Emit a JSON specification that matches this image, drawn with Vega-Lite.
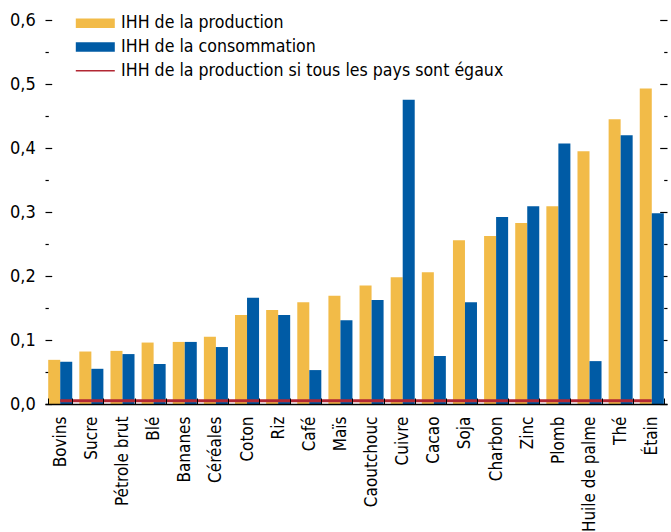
{
  "$schema": "https://vega.github.io/schema/vega-lite/v6.json",
  "width": 622,
  "height": 384,
  "autosize": {"type": "none"},
  "padding": {"left": 45, "top": 20, "right": 4, "bottom": 128},
  "config": {"view": {"stroke": null}, "font": "DejaVu Sans Condensed", "background": "white"},
  "datasets": {
    "bars": [
      {"produit": "Bovins", "serie": "IHH de la production", "valeur": 0.069},
      {"produit": "Bovins", "serie": "IHH de la consommation", "valeur": 0.066},
      {"produit": "Sucre", "serie": "IHH de la production", "valeur": 0.082},
      {"produit": "Sucre", "serie": "IHH de la consommation", "valeur": 0.055},
      {"produit": "Pétrole brut", "serie": "IHH de la production", "valeur": 0.083},
      {"produit": "Pétrole brut", "serie": "IHH de la consommation", "valeur": 0.078},
      {"produit": "Blé", "serie": "IHH de la production", "valeur": 0.096},
      {"produit": "Blé", "serie": "IHH de la consommation", "valeur": 0.0625},
      {"produit": "Bananes", "serie": "IHH de la production", "valeur": 0.097},
      {"produit": "Bananes", "serie": "IHH de la consommation", "valeur": 0.097},
      {"produit": "Céréales", "serie": "IHH de la production", "valeur": 0.105},
      {"produit": "Céréales", "serie": "IHH de la consommation", "valeur": 0.089},
      {"produit": "Coton", "serie": "IHH de la production", "valeur": 0.139},
      {"produit": "Coton", "serie": "IHH de la consommation", "valeur": 0.166},
      {"produit": "Riz", "serie": "IHH de la production", "valeur": 0.147},
      {"produit": "Riz", "serie": "IHH de la consommation", "valeur": 0.139},
      {"produit": "Café", "serie": "IHH de la production", "valeur": 0.159},
      {"produit": "Café", "serie": "IHH de la consommation", "valeur": 0.053},
      {"produit": "Maïs", "serie": "IHH de la production", "valeur": 0.169},
      {"produit": "Maïs", "serie": "IHH de la consommation", "valeur": 0.131},
      {"produit": "Caoutchouc", "serie": "IHH de la production", "valeur": 0.185},
      {"produit": "Caoutchouc", "serie": "IHH de la consommation", "valeur": 0.1625},
      {"produit": "Cuivre", "serie": "IHH de la production", "valeur": 0.198},
      {"produit": "Cuivre", "serie": "IHH de la consommation", "valeur": 0.4755},
      {"produit": "Cacao", "serie": "IHH de la production", "valeur": 0.206},
      {"produit": "Cacao", "serie": "IHH de la consommation", "valeur": 0.075},
      {"produit": "Soja", "serie": "IHH de la production", "valeur": 0.256},
      {"produit": "Soja", "serie": "IHH de la consommation", "valeur": 0.159},
      {"produit": "Charbon", "serie": "IHH de la production", "valeur": 0.2625},
      {"produit": "Charbon", "serie": "IHH de la consommation", "valeur": 0.292},
      {"produit": "Zinc", "serie": "IHH de la production", "valeur": 0.283},
      {"produit": "Zinc", "serie": "IHH de la consommation", "valeur": 0.309},
      {"produit": "Plomb", "serie": "IHH de la production", "valeur": 0.309},
      {"produit": "Plomb", "serie": "IHH de la consommation", "valeur": 0.407},
      {"produit": "Huile de palme", "serie": "IHH de la production", "valeur": 0.395},
      {"produit": "Huile de palme", "serie": "IHH de la consommation", "valeur": 0.067},
      {"produit": "Thé", "serie": "IHH de la production", "valeur": 0.445},
      {"produit": "Thé", "serie": "IHH de la consommation", "valeur": 0.42},
      {"produit": "Étain", "serie": "IHH de la production", "valeur": 0.493},
      {"produit": "Étain", "serie": "IHH de la consommation", "valeur": 0.298}
    ],
    "egaux": [
      {"produit": "Bovins", "serie": "IHH de la production si tous les pays sont égaux", "valeur": 0.005},
      {"produit": "Sucre", "serie": "IHH de la production si tous les pays sont égaux", "valeur": 0.005},
      {"produit": "Pétrole brut", "serie": "IHH de la production si tous les pays sont égaux", "valeur": 0.005},
      {"produit": "Blé", "serie": "IHH de la production si tous les pays sont égaux", "valeur": 0.005},
      {"produit": "Bananes", "serie": "IHH de la production si tous les pays sont égaux", "valeur": 0.005},
      {"produit": "Céréales", "serie": "IHH de la production si tous les pays sont égaux", "valeur": 0.005},
      {"produit": "Coton", "serie": "IHH de la production si tous les pays sont égaux", "valeur": 0.005},
      {"produit": "Riz", "serie": "IHH de la production si tous les pays sont égaux", "valeur": 0.005},
      {"produit": "Café", "serie": "IHH de la production si tous les pays sont égaux", "valeur": 0.005},
      {"produit": "Maïs", "serie": "IHH de la production si tous les pays sont égaux", "valeur": 0.005},
      {"produit": "Caoutchouc", "serie": "IHH de la production si tous les pays sont égaux", "valeur": 0.005},
      {"produit": "Cuivre", "serie": "IHH de la production si tous les pays sont égaux", "valeur": 0.005},
      {"produit": "Cacao", "serie": "IHH de la production si tous les pays sont égaux", "valeur": 0.005},
      {"produit": "Soja", "serie": "IHH de la production si tous les pays sont égaux", "valeur": 0.005},
      {"produit": "Charbon", "serie": "IHH de la production si tous les pays sont égaux", "valeur": 0.005},
      {"produit": "Zinc", "serie": "IHH de la production si tous les pays sont égaux", "valeur": 0.005},
      {"produit": "Plomb", "serie": "IHH de la production si tous les pays sont égaux", "valeur": 0.005},
      {"produit": "Huile de palme", "serie": "IHH de la production si tous les pays sont égaux", "valeur": 0.005},
      {"produit": "Thé", "serie": "IHH de la production si tous les pays sont égaux", "valeur": 0.005},
      {"produit": "Étain", "serie": "IHH de la production si tous les pays sont égaux", "valeur": 0.005}
    ]
  },
  "encoding": {
    "x": {
      "field": "produit",
      "type": "nominal",
      "sort": ["Bovins", "Sucre", "Pétrole brut", "Blé", "Bananes", "Céréales", "Coton", "Riz", "Café", "Maïs", "Caoutchouc", "Cuivre", "Cacao", "Soja", "Charbon", "Zinc", "Plomb", "Huile de palme", "Thé", "Étain"],
      "scale": {"paddingInner": 0.228, "paddingOuter": 0.103},
      "axis": {
        "title": null,
        "labelAngle": -90,
        "labelAlign": "right",
        "labelBaseline": "middle",
        "labelFont": "DejaVu Sans Condensed",
        "labelFontSize": 17,
        "labelColor": "black",
        "labelPadding": 18,
        "labelLimit": 0,
        "tickBand": "extent",
        "tickSize": -6,
        "tickColor": "black",
        "tickWidth": 1,
        "domainColor": "black",
        "domainWidth": 1.6,
        "zindex": 1
      }
    }
  },
  "layer": [
    {
      "data": {"name": "bars"},
      "mark": {"type": "bar"},
      "encoding": {
        "xOffset": {"field": "serie", "type": "nominal", "sort": ["IHH de la production", "IHH de la consommation"]},
        "y": {
          "field": "valeur",
          "type": "quantitative",
          "scale": {"domain": [0, 0.6], "nice": false},
          "axis": {
            "title": null,
            "orient": "left",
            "values": [0, 0.05, 0.1, 0.15, 0.2, 0.25, 0.3, 0.35, 0.4, 0.45, 0.5, 0.55, 0.6],
            "labelExpr": "round(datum.value*100) % 10 != 0 ? '' : replace(format(datum.value, '.1f'), '.', ',')",
            "labelFont": "DejaVu Sans Condensed",
            "labelFontSize": 18,
            "labelColor": "black",
            "labelPadding": 16.5,
            "domain": false,
            "grid": false,
            "tickColor": "black",
            "tickWidth": 1.2,
            "tickSize": {"condition": {"test": "round(datum.value*100) % 10 != 0", "value": -3.3}, "value": -6.7}
          }
        },
        "color": {
          "field": "serie",
          "type": "nominal",
          "scale": {
            "domain": ["IHH de la production", "IHH de la consommation", "IHH de la production si tous les pays sont égaux"],
            "range": ["#F2BB48", "#005BA5", "#B22733"]
          },
          "legend": {
            "title": null,
            "orient": "none",
            "legendX": 41.5,
            "legendY": -5.5,
            "padding": 0,
            "symbolSize": 100,
            "labelFont": "DejaVu Sans Condensed",
            "labelFontSize": 17.6,
            "labelColor": "black",
            "labelOffset": 17,
            "labelLimit": 0,
            "rowPadding": 4.7,
            "encode": {
              "symbols": {
                "update": {
                  "shape": {"signal": "datum.value === 'IHH de la production si tous les pays sont égaux' ? 'M-3.9,-0.15H3.9V0.15H-3.9Z' : 'M-3.9,-0.95H3.9V0.95H-3.9Z'"},
                  "fill": {"signal": "scale('color', datum.value)"},
                  "stroke": {"value": "transparent"},
                  "strokeWidth": {"value": 0},
                  "opacity": {"value": 1}
                }
              }
            }
          }
        }
      }
    },
    {
      "data": {"name": "egaux"},
      "mark": {"type": "line", "strokeWidth": 3},
      "encoding": {
        "y": {
          "field": "valeur",
          "type": "quantitative",
          "scale": {"domain": [0, 0.6], "nice": false},
          "axis": {
            "title": null,
            "orient": "right",
            "values": [0, 0.05, 0.1, 0.15, 0.2, 0.25, 0.3, 0.35, 0.4, 0.45, 0.5, 0.55, 0.6],
            "labels": false,
            "domain": false,
            "grid": false,
            "tickColor": "black",
            "tickWidth": 1.2,
            "tickSize": {"condition": {"test": "round(datum.value*100) % 10 != 0", "value": -3.3}, "value": -7.3}
          }
        },
        "color": {"field": "serie", "type": "nominal"}
      }
    }
  ],
  "resolve": {"axis": {"y": "independent"}}
}
